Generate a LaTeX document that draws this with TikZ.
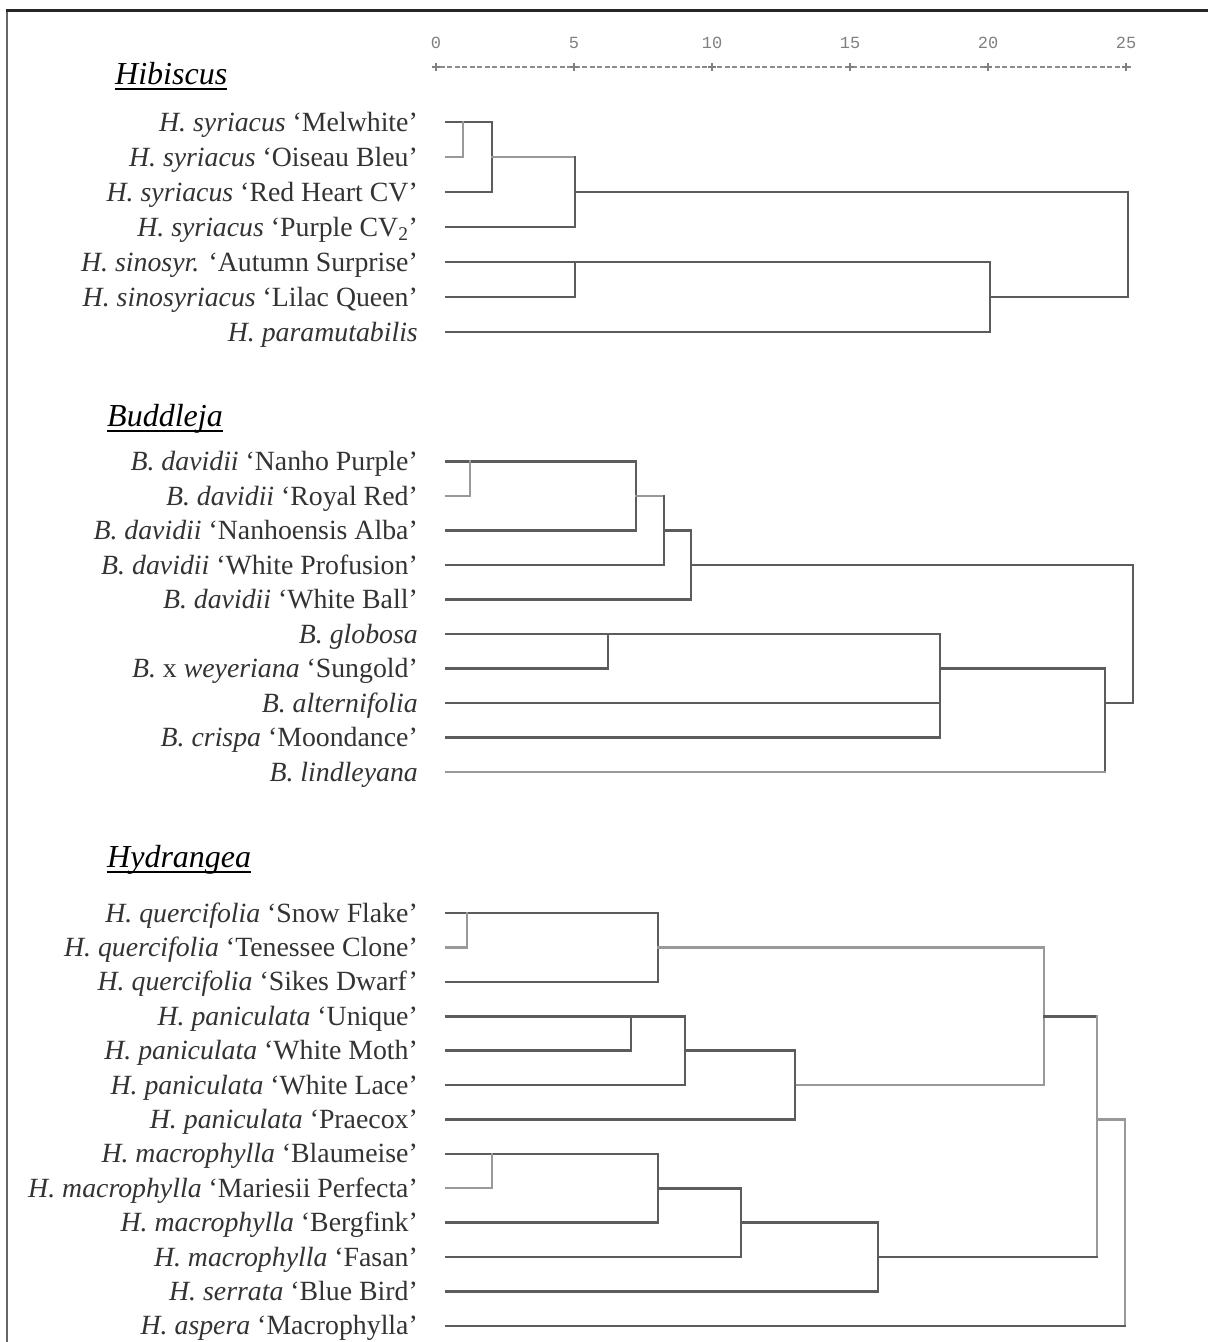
\documentclass[tikz,border=0pt]{standalone}
\usepackage{fontspec}
\setmainfont{Liberation Serif}
\newfontfamily\numfont{Liberation Mono}
\begin{document}
\begin{tikzpicture}[x=1pt,y=-1pt,
  lab/.style={anchor=base east,inner sep=0pt,font=\fontsize{27.8}{30}\selectfont,text=black!80},
  ttl/.style={anchor=base west,inner sep=0pt,font=\fontsize{32}{36}\selectfont\itshape},
  num/.style={inner sep=0pt,font=\numfont\fontsize{17}{19}\selectfont,text=black!50},
  dl/.style={draw=black!64,line width=2.6pt,line cap=rect},
  ll/.style={draw=black!40,line width=2.3pt,line cap=rect},
  uline/.style={draw=black,line width=1.8pt},
]
\useasboundingbox (0,0) rectangle (1208,1342);
\fill[white] (0,0) rectangle (1208,1342);
% frame
\draw[black!60,line width=2.5pt] (7,10) -- (7,1342);
\draw[black!85,line width=3pt] (6,10) -- (1208,10);

% scale
\foreach \v/\x in {0/436,5/574,10/712,15/850,20/988,25/1126}{
  \node[num] (n\v) at (\x,43) {\v};
}
\draw[black!45,line width=1.3pt,dash pattern=on 5pt off 2.5pt] (432,67) -- (1130,67);
\foreach \x in {436,574,712,850,988,1126}{
  \draw[black!50,line width=1.5pt] (\x-4,67) -- (\x+4,67) (\x,63) -- (\x,71);
}

% ---------------- Hibiscus ----------------
\node[ttl] (tHib) at (115,84) {Hibiscus};
\draw[uline] ([yshift=-5pt]tHib.base west) -- ([yshift=-5pt]tHib.base east);
\node[lab] (h1) at (418,131) {{\itshape H. syriacus} `Melwhite'};
\node[lab] (h2) at (418,166) {{\itshape H. syriacus} `Oiseau Bleu'};
\node[lab] (h3) at (418,201) {{\itshape H. syriacus} `Red Heart CV'};
\node[lab] (h4) at (418,236) {{\itshape H. syriacus} `Purple CV\textsubscript{2}'};
\node[lab] (h5) at (418,271) {{\itshape H. sinosyr.} `Autumn Surprise'};
\node[lab] (h6) at (418,306) {{\itshape H. sinosyriacus} `Lilac Queen'};
\node[lab] (h7) at (418,341) {{\itshape H. paramutabilis}};

\draw[dl] (446,122) -- (492,122) -- (492,192) -- (446,192);
\draw[ll] (446,157) -- (463,157) -- (463,122);
\draw[ll] (492,157) -- (575,157);
\draw[dl] (446,227) -- (575,227) -- (575,157);
\draw[dl] (575,192) -- (1128,192) -- (1128,297) -- (990,297);
\draw[dl] (446,262) -- (990,262) -- (990,332) -- (446,332);
\draw[dl] (446,297) -- (575,297) -- (575,262);

% ---------------- Buddleja ----------------
\node[ttl] (tBud) at (107,426) {Buddleja};
\draw[uline] ([yshift=-5pt]tBud.base west) -- ([yshift=-5pt]tBud.base east);
\node[lab] (b1) at (418,470.5) {{\itshape B. davidii} `Nanho Purple'};
\node[lab] (b2) at (418,505) {{\itshape B. davidii} `Royal Red'};
\node[lab] (b3) at (418,539.5) {{\itshape B. davidii} `Nanhoensis Alba'};
\node[lab] (b4) at (418,574) {{\itshape B. davidii} `White Profusion'};
\node[lab] (b5) at (418,608.5) {{\itshape B. davidii} `White Ball'};
\node[lab] (b6) at (418,643) {{\itshape B. globosa}};
\node[lab] (b7) at (418,677.5) {{\itshape B.} x {\itshape weyeriana} `Sungold'};
\node[lab] (b8) at (418,712) {{\itshape B. alternifolia}};
\node[lab] (b9) at (418,746.5) {{\itshape B. crispa} `Moondance'};
\node[lab] (b10) at (418,781) {{\itshape B. lindleyana}};

\draw[dl] (446,461.5) -- (636,461.5) -- (636,530.5) -- (446,530.5);
\draw[ll] (446,496) -- (470,496) -- (470,461.5);
\draw[ll] (636,496) -- (664,496);
\draw[dl] (446,565) -- (664,565) -- (664,496);
\draw[dl] (664,530.5) -- (691,530.5) -- (691,599.5) -- (446,599.5);
\draw[dl] (691,565) -- (1133,565) -- (1133,703) -- (1105,703);
\draw[dl] (446,634) -- (940,634) -- (940,737.5) -- (446,737.5);
\draw[dl] (446,668.5) -- (608,668.5) -- (608,634);
\draw[dl] (446,703) -- (940,703);
\draw[dl] (940,668.5) -- (1105,668.5) -- (1105,772);
\draw[ll] (446,772) -- (1105,772);

% ---------------- Hydrangea ----------------
\node[ttl] (tHyd) at (107,867) {Hydrangea};
\draw[uline] ([yshift=-5pt]tHyd.base west) -- ([yshift=-5pt]tHyd.base east);
\node[lab] (y1) at (418,922) {{\itshape H. quercifolia} `Snow Flake'};
\node[lab] (y2) at (418,956.4) {{\itshape H. quercifolia} `Tenessee Clone'};
\node[lab] (y3) at (418,990.8) {{\itshape H. quercifolia} `Sikes Dwarf'};
\node[lab] (y4) at (418,1025.2) {{\itshape H. paniculata} `Unique'};
\node[lab] (y5) at (418,1059.6) {{\itshape H. paniculata} `White Moth'};
\node[lab] (y6) at (418,1094) {{\itshape H. paniculata} `White Lace'};
\node[lab] (y7) at (418,1128.4) {{\itshape H. paniculata} `Praecox'};
\node[lab] (y8) at (418,1162.8) {{\itshape H. macrophylla} `Blaumeise'};
\node[lab] (y9) at (418,1197.2) {{\itshape H. macrophylla} `Mariesii Perfecta'};
\node[lab] (y10) at (418,1231.6) {{\itshape H. macrophylla} `Bergfink'};
\node[lab] (y11) at (418,1266) {{\itshape H. macrophylla} `Fasan'};
\node[lab] (y12) at (418,1300.4) {{\itshape H. serrata} `Blue Bird'};
\node[lab] (y13) at (418,1334.8) {{\itshape H. aspera} `Macrophylla'};

\draw[dl] (446,913) -- (658,913) -- (658,981.8) -- (446,981.8);
\draw[ll] (446,947.4) -- (467,947.4) -- (467,913);
\draw[ll] (658,947.4) -- (1044,947.4) -- (1044,1085) -- (795,1085);
\draw[dl] (446,1016.2) -- (685,1016.2) -- (685,1085) -- (446,1085);
\draw[dl] (446,1050.6) -- (631,1050.6) -- (631,1016.2);
\draw[dl] (685,1050.6) -- (795,1050.6) -- (795,1119.4) -- (446,1119.4);
\draw[dl] (1044,1016.2) -- (1097,1016.2);
\draw[ll] (1097,1016.2) -- (1097,1257);
\draw[dl] (446,1153.8) -- (658,1153.8) -- (658,1222.6) -- (446,1222.6);
\draw[ll] (446,1188.2) -- (492,1188.2) -- (492,1153.8);
\draw[dl] (658,1188.2) -- (741,1188.2) -- (741,1257) -- (446,1257);
\draw[dl] (741,1222.6) -- (878,1222.6) -- (878,1291.4) -- (446,1291.4);
\draw[dl] (878,1257) -- (1097,1257);
\draw[ll] (1097,1119.4) -- (1125,1119.4) -- (1125,1325.8);
\draw[dl] (446,1325.8) -- (1125,1325.8);
\end{tikzpicture}
\end{document}
